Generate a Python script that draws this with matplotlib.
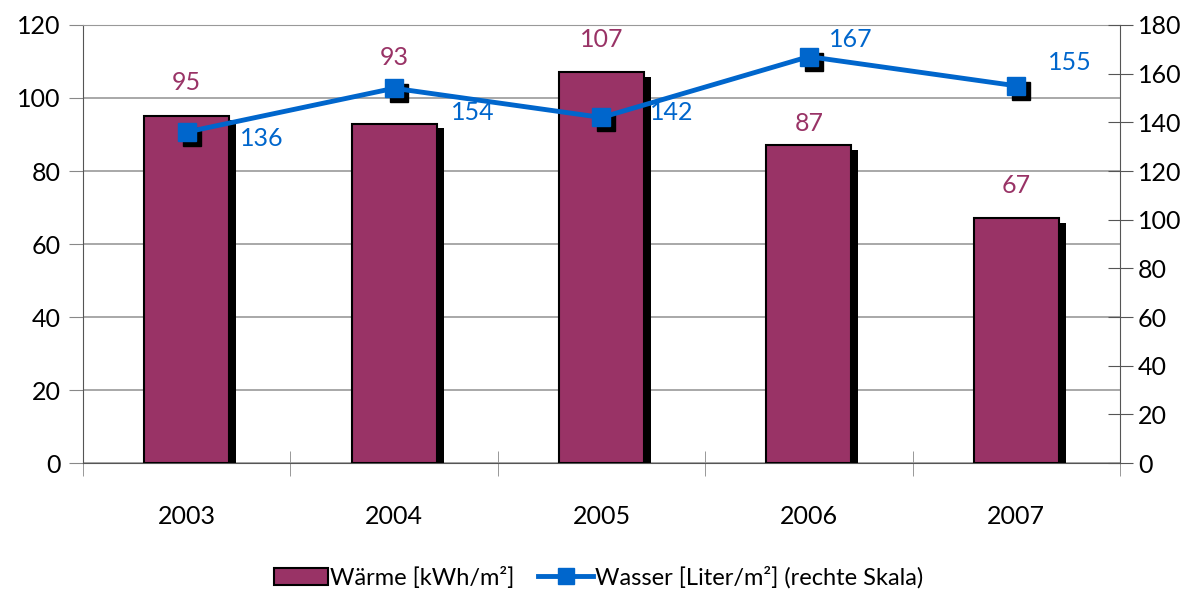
import matplotlib.pyplot as plt
import matplotlib.patheffects as pe
from matplotlib.patches import Patch
from matplotlib.transforms import offset_copy
import numpy as np

plt.rcParams['font.family'] = ['Lato', 'DejaVu Sans']

years = ["2003", "2004", "2005", "2006", "2007"]
waerme = [95, 93, 107, 87, 67]
wasser = [136, 154, 142, 167, 155]

bar_color = "#993366"
line_color = "#0066CC"
fs = 18

fig = plt.figure(figsize=(11.97, 5.95), dpi=100)
ax = fig.add_axes([0.0693, 0.2218, 0.8664, 0.7362])
ax2 = ax.twinx()

x = np.arange(len(years))
shadow = [pe.SimplePatchShadow(offset=(5, -3), shadow_rgbFace="black", alpha=1), pe.Normal()]
bars = ax.bar(x, waerme, width=0.41, color=bar_color, edgecolor="black",
              linewidth=1.5, zorder=3)
for b in bars:
    b.set_path_effects(shadow)

ax.set_xlim(-0.5, len(years) - 0.5)
ax.set_ylim(0, 120)
ax.set_yticks(range(0, 121, 20))
ax.yaxis.grid(True, color="#999999", linewidth=1.2)
ax.set_axisbelow(True)
ax.set_xticks(x)
ax.set_xticklabels(years)
ax.set_xticks(np.arange(-0.5, len(years)), minor=True)
ax.tick_params(axis="x", which="major", length=0, pad=30, labelsize=fs)
ax.tick_params(axis="x", which="minor", direction="inout", length=18, color="#888888")
ax.tick_params(axis="y", direction="out", length=10, color="#888888", labelsize=fs, pad=6)
ax.spines["top"].set_color("#999999")
ax.spines["left"].set_color("#555555")
ax.spines["bottom"].set_color("#555555")
ax.spines["right"].set_visible(False)

# bar value labels sit on the upper axes so the line does not cover them
bar_lift = [9.3, 18, 9, 6, 9]
for xi, v, d in zip(x, waerme, bar_lift):
    ax2.text(xi, v + d, str(v), transform=ax.transData, color=bar_color,
             fontsize=fs, ha="center", va="center", zorder=6)

# line drawn plain, black squares shifted down-right act as marker shadows
ax2.plot(x, wasser, color=line_color, linewidth=3.5, zorder=4)
shadow_tr = offset_copy(ax2.transData, fig=fig, x=5, y=-5, units="dots")
ax2.plot(x, wasser, linestyle="none", marker="s", markersize=13, color="black",
         transform=shadow_tr, zorder=3.5)
ax2.plot(x, wasser, linestyle="none", marker="s", markersize=13,
         color=line_color, zorder=5)
ax2.set_ylim(0, 180)
ax2.set_yticks(range(0, 181, 20))
ax2.tick_params(axis="y", direction="inout", length=18, color="#555555", labelsize=fs, pad=4)
for s in ["top", "left", "bottom"]:
    ax2.spines[s].set_visible(False)
ax2.spines["right"].set_color("#555555")

line_off = [(0.36, -2.5), (0.38, -10), (0.34, 2), (0.2, 7), (0.26, 9.5)]
for xi, v, (dx, dy) in zip(x, wasser, line_off):
    ax2.text(xi + dx, v + dy, str(v), color=line_color, fontsize=fs,
             ha="center", va="center", zorder=6)

handles = [Patch(facecolor=bar_color, edgecolor="black", linewidth=1.5),
           plt.Line2D([], [], color=line_color, linewidth=3.5, marker="s", markersize=11)]
labels = ["Wärme [kWh/m²]", "Wasser [Liter/m²] (rechte Skala)"]
fig.legend(handles, labels, loc="lower center", bbox_to_anchor=(0.5, -0.025), ncol=2,
           frameon=False, fontsize=17, handlelength=2.3, handletextpad=0.1,
           columnspacing=1.0)

fig.savefig("out.png", dpi=100)
